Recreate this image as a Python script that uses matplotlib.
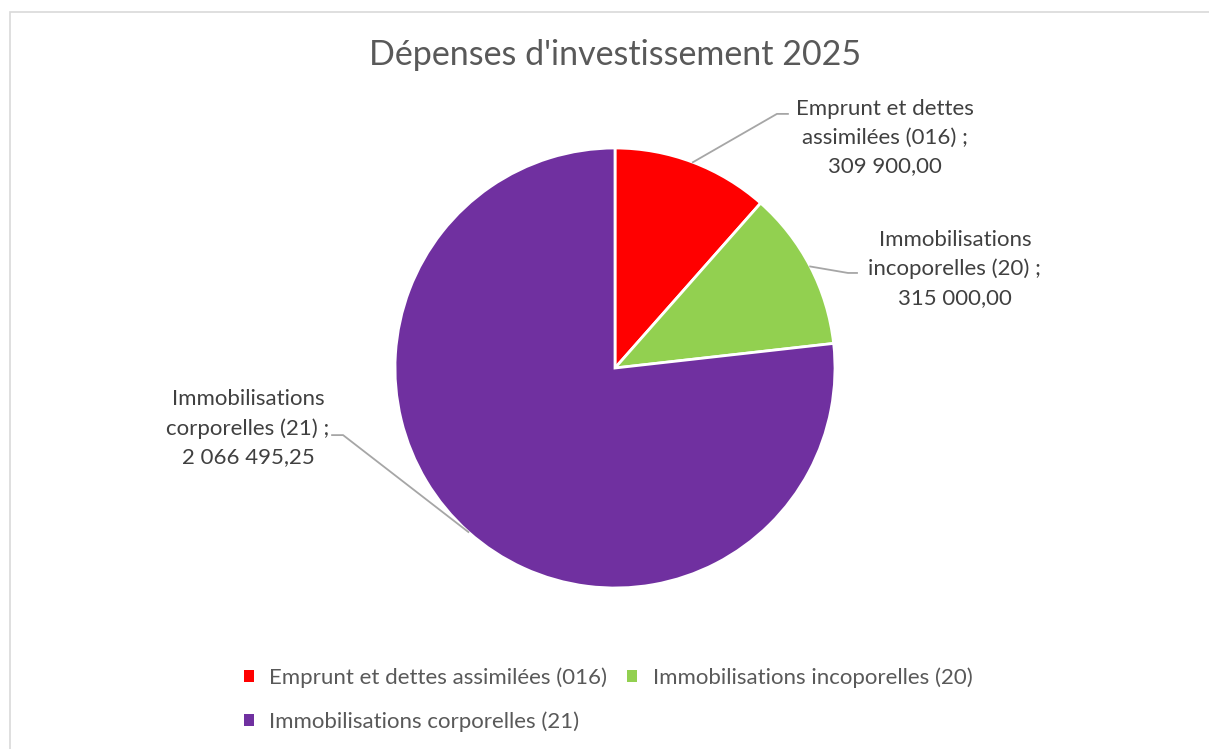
import numpy as np
import matplotlib
matplotlib.use("Agg")
import matplotlib.pyplot as plt
from matplotlib.patches import Rectangle

plt.rcParams['font.family'] = ['Lato', 'DejaVu Sans']

categories = ["Emprunt et dettes assimilées (016)",
              "Immobilisations incoporelles (20)",
              "Immobilisations corporelles (21)"]
values = [309900.00, 315000.00, 2066495.25]
colors = ["#FF0000", "#92D050", "#7030A0"]
value_labels = ["309 900,00", "315 000,00", "2 066 495,25"]
label_texts = ["Emprunt et dettes\nassimilées (016) ;\n" + value_labels[0],
               "Immobilisations\nincoporelles (20) ;\n" + value_labels[1],
               "Immobilisations\ncorporelles (21) ;\n" + value_labels[2]]

W, H = 1209, 749
fig = plt.figure(figsize=(W / 100, H / 100), dpi=100)

# chart frame
fig.patches.append(Rectangle((10 / W, -0.05), 1.2, (H - 12) / H + 0.05, transform=fig.transFigure,
                             fill=False, edgecolor="#D9D9D9", linewidth=1.2))

cx, cy, r = 615, 368, 220
ax = fig.add_axes([(cx - r) / W, (H - cy - r) / H, 2 * r / W, 2 * r / H])

wedges, _ = ax.pie(values, colors=colors, startangle=90, counterclock=False, radius=1,
                   wedgeprops=dict(edgecolor="white", linewidth=2))
ax.set_xlim(-1, 1)
ax.set_ylim(-1, 1)
ax.set_aspect("auto")
ax.axis("off")

fig.text(cx / W, 1 - 55 / H, "Dépenses d'investissement 2025", ha="center", va="center",
         fontsize=24.5, color="#595959")

# label placements (elbow, line end, text centre) in data units
elbows = [(0.736, 1.155), (1.059, 0.432), (-1.236, -0.305)]
ends = [(0.786, 1.155), (1.10, 0.432), (-1.286, -0.305)]
centers = [(1.225, 1.048), (1.545, 0.45), (-1.668, -0.273)]

for w, el, en, c, txt in zip(wedges, elbows, ends, centers, label_texts):
    ang = np.deg2rad((w.theta1 + w.theta2) / 2)
    p = (np.cos(ang), np.sin(ang))
    ax.plot([p[0], el[0], en[0]], [p[1], el[1], en[1]], color="#A6A6A6", lw=1.3,
            clip_on=False, zorder=3)
    ax.text(c[0], c[1], txt, ha="center", va="center", fontsize=16, color="#404040",
            linespacing=1.55, clip_on=False)

order = [0, 2, 1]
leg = fig.legend([wedges[i] for i in order], [categories[i] for i in order],
                 loc="center", bbox_to_anchor=(0.503, 1 - 699.5 / H), ncol=2, frameon=False,
                 fontsize=16, labelcolor="#595959", handlelength=0.45, handleheight=0.45,
                 handletextpad=0.7, columnspacing=0.9, labelspacing=1.05)
for h in leg.legend_handles:
    h.set_edgecolor("none")

fig.savefig("out.png", dpi=100, facecolor="white")
